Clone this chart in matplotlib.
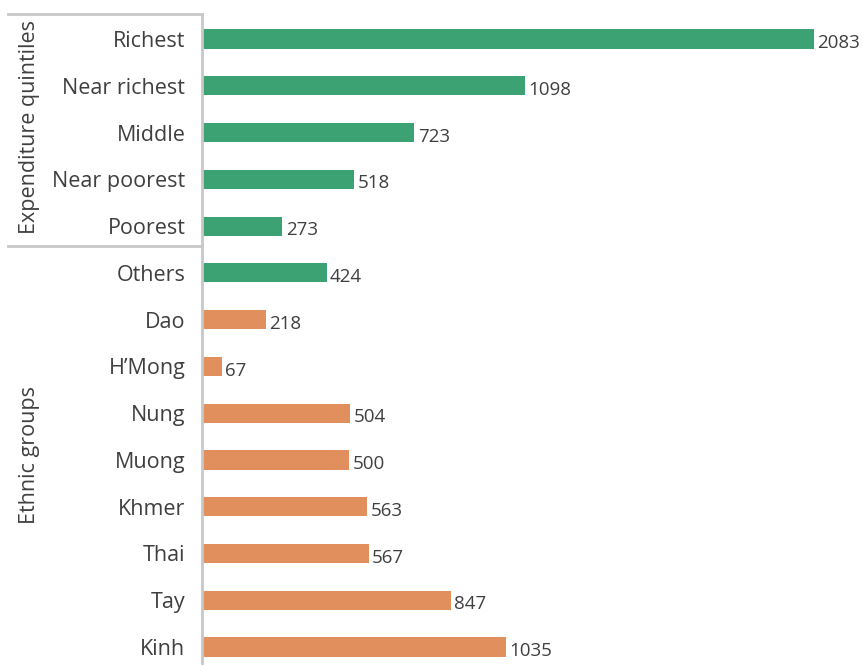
import matplotlib.pyplot as plt
from matplotlib.lines import Line2D

categories = ["Richest", "Near richest", "Middle", "Near poorest", "Poorest",
              "Others", "Dao", "H\u2019Mong", "Nung", "Muong", "Khmer", "Thai", "Tay", "Kinh"]
values = [2083, 1098, 723, 518, 273, 424, 218, 67, 504, 500, 563, 567, 847, 1035]
groups = ["q", "q", "q", "q", "q", "q", "e", "e", "e", "e", "e", "e", "e", "e"]

green = "#3ca274"
orange = "#e18f5d"
text_col = "#3f3f3f"
line_col = "#c8c8c8"

plt.rcParams['font.family'] = ['Open Sans', 'DejaVu Sans']

fig = plt.figure(figsize=(8.67, 6.65), dpi=100)
ax = fig.add_axes([202 / 867, 0.0, 665 / 867, 1 - 14 / 665])

ypos = list(range(len(categories)))
colors = [green if g == "q" else orange for g in groups]
ax.barh(ypos, values, height=0.41, color=colors)

for y, v in zip(ypos, values):
    ax.annotate(str(v), (v, y), xytext=(2.5, -3), textcoords="offset points",
                va="center", ha="left", fontsize=13.5, color=text_col)

ax.set_xlim(0, 2263)
ax.set_ylim(13.385, -0.535)
ax.set_yticks(ypos)
ax.set_yticklabels(categories, fontsize=15.5, color=text_col)
ax.tick_params(axis="y", length=0, pad=12)
ax.set_xticks([])
for s in ["top", "right", "bottom"]:
    ax.spines[s].set_visible(False)
ax.spines["left"].set_color(line_col)
ax.spines["left"].set_linewidth(2)

# group brackets on the left
fig.add_artist(Line2D([8 / 867, 202 / 867], [1 - 14 / 665] * 2, color=line_col, lw=2))
fig.add_artist(Line2D([8 / 867, 202 / 867], [1 - 246 / 665] * 2, color=line_col, lw=2))
fig.text(30 / 867, 1 - 127 / 665, "Expenditure quintiles", rotation=90,
         ha="center", va="center", fontsize=15.5, color=text_col)
fig.text(30 / 867, 1 - 455 / 665, "Ethnic groups", rotation=90,
         ha="center", va="center", fontsize=15.5, color=text_col)

fig.savefig("out.png", dpi=100)
